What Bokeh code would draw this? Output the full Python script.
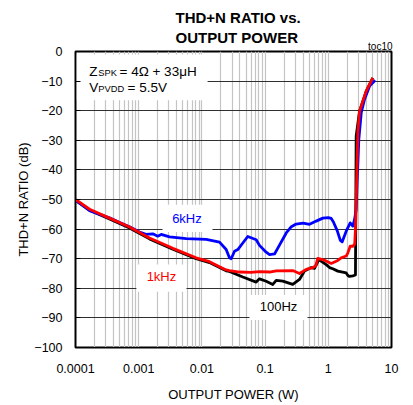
from bokeh.plotting import figure
from bokeh.models import Range1d, FixedTicker, Label, BoxAnnotation, Title
from bokeh.embed import file_html
from bokeh.resources import INLINE

# ---- data ----
power_6khz = [1e-4, 1.67e-4, 3.45e-4, 5.0e-4, 7.15e-4, 1.03e-3, 1.3e-3, 1.67e-3, 2.0e-3, 2.27e-3,
              3.07e-3, 5.65e-3, 0.0117, 0.019, 0.0242, 0.0273, 0.0291, 0.0328, 0.037, 0.0444,
              0.0532, 0.0723, 0.0815, 0.104, 0.1175, 0.141, 0.163, 0.216, 0.26, 0.31,
              0.40, 0.505, 0.644, 0.819, 1.0, 1.112, 1.2, 1.383, 1.55, 1.66,
              1.92, 2.22, 2.44, 2.60, 2.76, 2.86, 3.04, 3.32, 3.74, 4.49, 5.52]
thdn_6khz = [-50.2, -53.8, -56.2, -57.8, -59.2, -61.0, -61.8, -61.6, -62.4, -61.8,
             -62.6, -63.2, -63.5, -64.4, -66.9, -69.7, -70.0, -67.5, -66.9, -64.7,
             -62.5, -63.6, -65.5, -67.8, -68.6, -68.4, -66.0, -61.3, -59.2, -58.3,
             -58.0, -58.4, -57.3, -56.3, -56.1, -56.4, -57.5, -60.5, -63.8, -64.3,
             -60.7, -57.9, -59.0, -56.8, -53.4, -44.0, -29.7, -20.7, -16.2, -11.7, -9.7]

power_1khz = [1e-4, 1.67e-4, 3.45e-4, 7.15e-4, 1.48e-3, 3.47e-3, 8.1e-3, 0.0132, 0.019, 0.0242,
              0.0273, 0.0394, 0.06, 0.0815, 0.1175, 0.150, 0.274, 0.350, 0.447, 0.569,
              0.63, 0.682, 0.871, 1.112, 1.413, 1.6, 1.92, 2.04, 2.22, 2.44,
              2.62, 2.69, 2.93, 3.12, 3.98, 5.06]
thdn_1khz = [-50.0, -53.3, -56.3, -59.3, -63.0, -66.5, -69.7, -71.0, -72.7, -73.8,
             -74.0, -74.5, -74.6, -74.4, -74.5, -74.1, -74.0, -75.0, -73.6, -73.0,
             -72.5, -69.9, -70.5, -71.6, -70.6, -69.7, -69.1, -68.0, -65.8, -65.8,
             -65.0, -60.0, -27.4, -20.2, -13.4, -8.9]

power_100hz = [1e-4, 1.67e-4, 3.45e-4, 7.15e-4, 1.48e-3, 3.47e-3, 8.1e-3, 0.0132, 0.019, 0.0242,
               0.0273, 0.0444, 0.0723, 0.0815, 0.104, 0.1324, 0.150, 0.1906, 0.274, 0.350,
               0.420, 0.536, 0.605, 0.708, 0.927, 1.045, 1.178, 1.413, 1.92, 2.04,
               2.16, 2.44, 2.69, 2.76, 3.12, 3.98, 5.06]
thdn_100hz = [-50.3, -53.6, -56.6, -59.6, -63.3, -66.8, -70.0, -71.3, -73.0, -74.1,
              -74.3, -76.2, -77.9, -76.8, -77.6, -78.7, -77.3, -77.6, -78.7, -77.0,
              -74.2, -73.0, -73.3, -70.3, -72.0, -73.0, -73.4, -74.2, -74.8, -75.7,
              -76.0, -75.8, -75.5, -28.6, -20.2, -13.4, -8.9]

x_ticks = [0.0001, 0.001, 0.01, 0.1, 1, 10]
x_tick_labels = ["0.0001", "0.001", "0.01", "0.1", "1", "10"]
y_ticks = [0, -10, -20, -30, -40, -50, -60, -70, -80, -90, -100]

FONT = "Liberation Sans"

p = figure(frame_width=316, frame_height=296, x_axis_type="log",
           x_range=Range1d(1e-4, 10), y_range=Range1d(-100, 0),
           output_backend="svg", toolbar_location=None,
           min_border_left=75, min_border_right=16, min_border_top=51, min_border_bottom=54,
           background_fill_color="white", border_fill_color="white")

# titles (stacked above the frame, closest first)
p.add_layout(Title(text="toc10", align="right", vertical_align="top", offset=-1, standoff=-6.35,
                   text_font=FONT, text_font_size="10px", text_font_style="normal",
                   text_color="black"), "above")
p.add_layout(Title(text="OUTPUT POWER", align="left", offset=100, standoff=-2.8,
                   text_font=FONT, text_font_size="15px", text_font_style="bold",
                   text_color="black"), "above")
p.add_layout(Title(text="THD+N RATIO vs.", align="left", offset=100, standoff=6,
                   text_font=FONT, text_font_size="15px", text_font_style="bold",
                   text_color="black"), "above")

# grids
minor = [k * 10.0 ** d for d in range(-4, 1) for k in range(2, 10)]
p.xaxis.ticker = FixedTicker(ticks=x_ticks, minor_ticks=minor)
p.yaxis.ticker = FixedTicker(ticks=y_ticks)
p.xaxis.major_label_overrides = {t: s for t, s in zip(x_ticks, x_tick_labels)}

p.xgrid.grid_line_color = "#c4c4c4"
p.xgrid.grid_line_width = 1.2
p.xgrid.minor_grid_line_color = "#c4c4c4"
p.xgrid.minor_grid_line_width = 1.2
p.ygrid.grid_line_color = "#303030"
p.ygrid.grid_line_width = 1.2

# axes
for ax in (p.xaxis, p.yaxis):
    ax.axis_line_color = "black"
    ax.major_label_text_font = FONT
    ax.major_label_text_font_size = "12.5px"
    ax.major_label_text_color = "black"
    ax.axis_label_text_font = FONT
    ax.axis_label_text_font_size = "13px"
    ax.axis_label_text_font_style = "normal"
    ax.axis_label_text_color = "black"
    ax.minor_tick_line_color = None
    ax.major_tick_out = 0

p.xaxis.major_tick_in = 0
p.yaxis.major_tick_in = 5
p.xaxis.major_label_standoff = 12
p.yaxis.major_label_standoff = 13
p.xaxis.axis_label = "OUTPUT POWER (W)"
p.yaxis.axis_label = "THD+N RATIO (dB)"
p.xaxis.axis_label_standoff = 11
p.yaxis.axis_label_standoff = 0

p.outline_line_color = "black"
p.outline_line_width = 2

# white boxes behind texts (cover the grid)
def white_box(left, right, top, bottom):
    b = BoxAnnotation(left=left, right=right, top=top, bottom=bottom,
                      fill_color="white", fill_alpha=1, line_color=None, level="underlay")
    p.add_layout(b)

white_box(1.05e-4, 0.0123, -1.0, -16.5)
white_box(2.38e-3, 0.0147, -51.8, -61.0)
white_box(9.2e-4, 5.7e-3, -72.0, -81.2)
white_box(0.0566, 0.469, -82.3, -90.7)

# curves
p.line(power_100hz, thdn_100hz, line_color="black", line_width=2.8, line_join="round")
p.line(power_6khz, thdn_6khz, line_color="#0000ff", line_width=2.8, line_join="round")
p.line(power_1khz, thdn_1khz, line_color="#ff0000", line_width=2.8, line_join="round")

def lab(x, y, text, color="black", size="13px", dx=0, dy=0, align="left",
        baseline="alphabetic", style="normal"):
    p.add_layout(Label(x=x, y=y, x_offset=dx, y_offset=dy, text=text,
                       text_color=color, text_font=FONT, text_font_size=size,
                       text_align=align, text_baseline=baseline, text_font_style=style))

# series labels
lab(5.8e-3, -56.4, "6kHz", color="#0000ff", align="center", baseline="middle")
lab(2.29e-3, -76.0, "1kHz", color="#ff0000", align="center", baseline="middle")
lab(0.163, -86.3, "100Hz", color="black", align="center", baseline="middle")

# conditions text
lab(1e-4, 0, "Z", size="13.5px", dx=13.8, dy=-20.3)
lab(1e-4, 0, "SPK", size="9.3px", dx=22.8, dy=-21.3)
lab(1e-4, 0, "= 4Ω + 33μH", size="13.5px", dx=44, dy=-20.3)
lab(1e-4, 0, "V", size="13.5px", dx=13.8, dy=-36.3)
lab(1e-4, 0, "PVDD", size="9.3px", dx=22.8, dy=-37)
lab(1e-4, 0, "= 5.5V", size="13.5px", dx=52, dy=-36.3)

open("out.html", "w").write(file_html(p, INLINE))
